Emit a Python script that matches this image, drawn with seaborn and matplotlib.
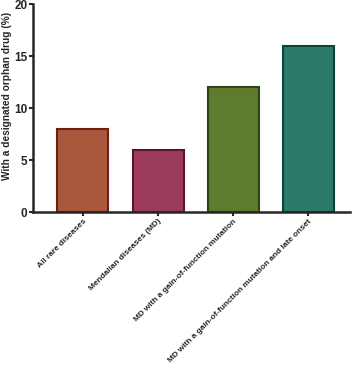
import matplotlib
matplotlib.use("Agg")
import matplotlib.pyplot as plt
import seaborn as sns
import pandas as pd

# ── Data ──────────────────────────────────────────────────────────────────────
categories = ["All rare diseases",
              "Mendalian diseases (MD)",
              "MD with a gain-of-function mutation",
              "MD with a gain-of-function mutation and late onset"]
values = [8, 6, 12, 16]
fill_colors = ["#A9573D", "#9C3A5E", "#5E7B2E", "#2B7B68"]
edge_colors = ["#6E1E12", "#5A1530", "#2E4414", "#0E4436"]

df = pd.DataFrame({"cat": categories, "val": values})

sns.set_style("ticks")
plt.rcParams['font.family'] = ['Liberation Sans', 'DejaVu Sans']

fig = plt.figure(figsize=(3.58, 3.65), dpi=100)
ax = fig.add_axes([0.092, 0.419, 0.886, 0.570])

sns.barplot(data=df, x="cat", y="val", hue="cat", palette=fill_colors,
            width=0.68, legend=False, ax=ax, saturation=1)
for bar, ec in zip(ax.patches, edge_colors):
    bar.set_edgecolor(ec)
    bar.set_linewidth(1.5)

ax.set_ylim(0, 20)
ax.set_yticks([0, 5, 10, 15, 20])
ax.set_xlim(-0.667, 3.56)
ax.set_xlabel("")
ax.set_ylabel("With a designated orphan drug (%)", fontsize=7.3,
              fontweight="bold")
ax.yaxis.set_label_coords(-0.065, 0.56)
ax.tick_params(axis="y", labelsize=8.5, width=1.5, length=3, pad=1)
ax.tick_params(axis="x", labelsize=5.95, width=1.5, length=3, pad=1.2)
for lab in ax.get_yticklabels():
    lab.set_fontweight("bold")
ax.set_xticks(range(len(categories)))
ax.set_xticklabels(categories, rotation=45, ha="right", rotation_mode="anchor",
                   fontweight="bold")
for side in ["left", "bottom"]:
    ax.spines[side].set_linewidth(1.8)
sns.despine(ax=ax)

plt.savefig("out.png", dpi=100)
plt.close()
